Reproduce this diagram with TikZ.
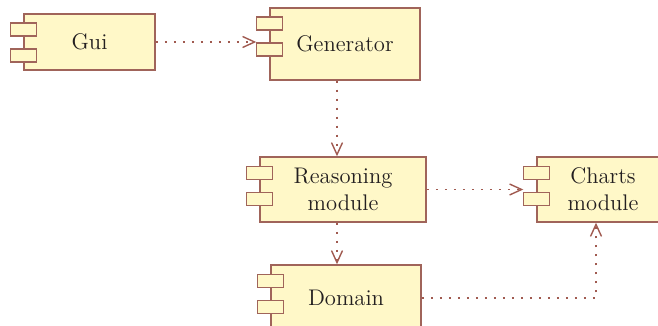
\documentclass[tikz,border=0pt]{standalone}
\usetikzlibrary{arrows.meta}

\definecolor{compfill}{HTML}{FFF8C8}
\definecolor{compline}{HTML}{A0645A}
\definecolor{depline}{HTML}{A05A50}
\definecolor{ink}{HTML}{231F20}

% the two little tabs on the left side of a component box
\newcommand\comptabs[1]{%
  \foreach \dy in {5pt,18pt}
    \draw[tab] ([xshift=-6.5pt,yshift=-\dy]#1.north west) rectangle ++(13pt,-6.5pt);}

\begin{document}
\begin{tikzpicture}[x=0.5pt, y=-0.5pt, >={Straight Barb[length=6pt,width=5.5pt]},
        comp/.style={draw=compline, fill=compfill, line width=0.75pt, inner sep=0pt,
          align=center, text=ink, font=\fontsize{11.3}{13.5}\selectfont},
        tab/.style={draw=compline, fill=compfill, line width=0.75pt},
        dep/.style={->, draw=depline, line width=0.7pt, dash pattern=on 0.9pt off 3.6pt}]
      \clip (0,0) rectangle (658,326);
      \node[comp, minimum width=65.5pt, minimum height=28pt] (gui) at (89.5,42) {Gui};
      \node[comp, minimum width=75pt, minimum height=36pt] (gen) at (345,44) {Generator};
      \node[comp, minimum width=83pt, minimum height=32.5pt] (reas) at (343,189.5) {Reasoning\\module};
      \node[comp, minimum width=66pt, minimum height=32.5pt] (charts) at (603,189.5) {Charts\\module};
      \node[comp, minimum width=75pt, minimum height=33pt] (dom) at (346,298) {Domain};
      \foreach \n in {gui,gen,reas,charts,dom}
        \comptabs{\n};
      % dependencies
      \draw[dep] (gui.east) -- ([xshift=-6.5pt]gui.east -| gen.west);
      \draw[dep] ([xshift=-4pt]gen.south) -- ([xshift=-4pt]gen.south |- reas.north);
      \draw[dep] (reas.east) -- ([xshift=-6.5pt]reas.east -| charts.west);
      \draw[dep] ([xshift=-3pt]reas.south) -- ([xshift=-3pt]reas.south |- dom.north);
      \draw[dep] (dom.east) -| ([xshift=-3.5pt]charts.south);
    \end{tikzpicture}
\end{document}
